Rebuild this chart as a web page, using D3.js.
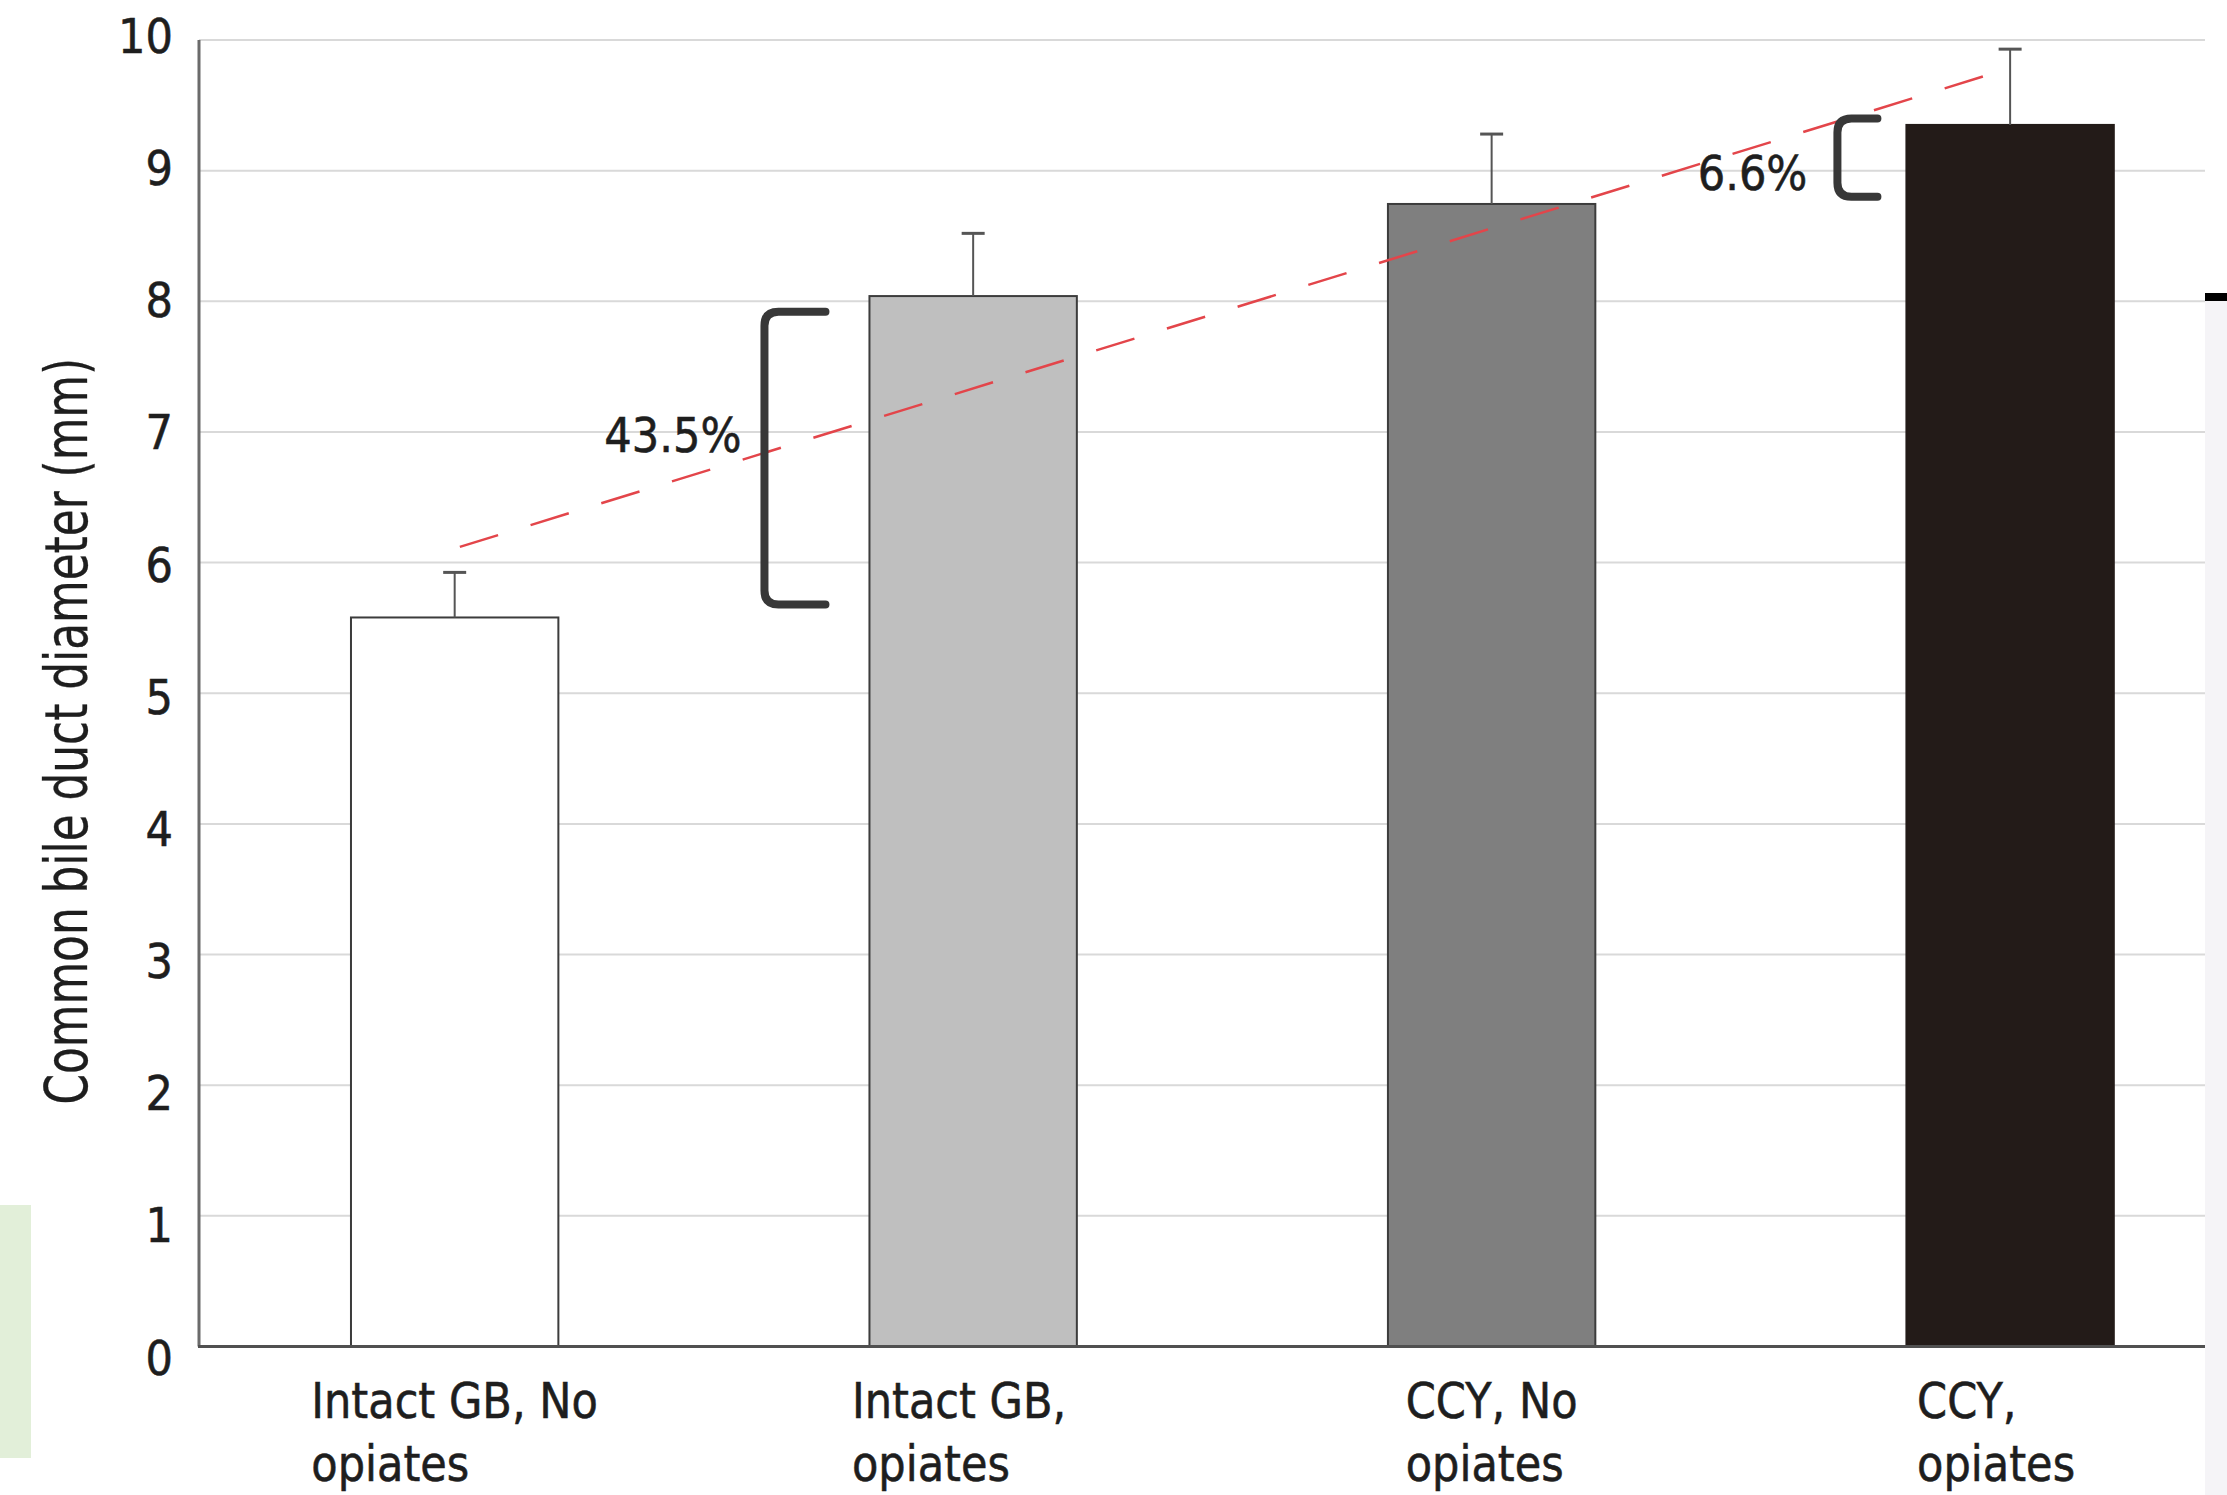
<!DOCTYPE html>
<html>
<head>
<meta charset="utf-8">
<script src="https://cdn.jsdelivr.net/npm/d3@7"></script>
<style>
  body { margin: 0; background: #fff; }
  svg { display: block; }
  text { font-family: "DejaVu Sans", Verdana, sans-serif; fill: #1e1e1e; stroke: #1e1e1e; stroke-width: 0.6; }
</style>
</head>
<body>
<svg id="chart"></svg>
<script>
// data
const categories = ["Intact GB, No opiates", "Intact GB, opiates", "CCY, No opiates", "CCY, opiates"]
const labelLines = [["Intact GB, No", "opiates"], ["Intact GB,", "opiates"], ["CCY, No", "opiates"], ["CCY,", "opiates"]]
const means = [5.58, 8.04, 8.745, 9.35]
const errors = [0.345, 0.48, 0.535, 0.58]
const yTicks = [0, 1, 2, 3, 4, 5, 6, 7, 8, 9, 10]
const trendIndex = [0.01, 2.98]
const trendValues = [6.12, 9.76]
const bracketLow = [5.68, 8.80]
const bracketHigh = [7.92, 9.40]
const pctLabels = ["43.5%", "6.6%"]
const pctLabelValues = [6.85, 8.85]

const barFill = ["#ffffff", "#bfbfbf", "#7f7f7f", "#231b18"]

const W = 2227, H = 1495
const plotL = 199, plotR = 2205, plotT = 40, plotB = 1346.5

const svg = d3.select("#chart")
  .attr("width", W)
  .attr("height", H)

// odd bits around the edge of the picture
svg.append("rect")
  .attr("x", 0).attr("y", 1205).attr("width", 31).attr("height", 253)
  .attr("fill", "#e2efd9")
svg.append("rect")
  .attr("x", plotR).attr("y", 301).attr("width", W - plotR).attr("height", H - 301)
  .attr("fill", "#f5f4f7")
svg.append("rect")
  .attr("x", plotR).attr("y", 293).attr("width", W - plotR).attr("height", 8)
  .attr("fill", "#000")

let x = d3.scaleBand()
  .domain(categories)
  .range([plotL, plotR])
  .paddingInner(0.6)
  .paddingOuter(0.2345)
  .align(0.625)

let y = d3.scaleLinear()
  .domain([0, 10])
  .range([plotB, plotT])

// tick labels sit a touch further apart than the grid
let yLabel = d3.scaleLinear()
  .domain([0, 10])
  .range([plotB + 10.5, plotT - 4.5])

let center = i => x(categories[i]) + x.bandwidth() / 2
let xIdx = d3.scaleLinear()
  .domain([0, categories.length - 1])
  .range([center(0), center(categories.length - 1)])

// gridlines
svg.append("g")
  .selectAll("line")
  .data(yTicks.filter(d => d > 0))
  .enter()
  .append("line")
  .attr("x1", plotL).attr("x2", plotR)
  .attr("y1", d => y(d)).attr("y2", d => y(d))
  .attr("stroke", "#d9d9d9")
  .attr("stroke-width", 2)

// y tick labels
svg.append("g")
  .selectAll("text")
  .data(yTicks)
  .enter()
  .append("text")
  .attr("transform", d => "translate(173," + (yLabel(d) + 17.5) + ") scale(0.9,1)")
  .attr("text-anchor", "end")
  .attr("font-size", 48)
  .text(d => d)

// y title
svg.append("text")
  .attr("transform", "translate(87," + ((plotT + plotB) / 2 + 38) + ") rotate(-90) scale(0.755,1)")
  .attr("text-anchor", "middle")
  .attr("font-size", 58)
  .style("stroke-width", 0.3)
  .text("Common bile duct diameter (mm)")

// bars
svg.append("g")
  .selectAll("rect")
  .data(means)
  .enter()
  .append("rect")
  .attr("x", (d, i) => x(categories[i]))
  .attr("y", d => y(d))
  .attr("width", x.bandwidth())
  .attr("height", d => y(0) - y(d))
  .attr("fill", (d, i) => barFill[i])
  .attr("stroke", (d, i) => i === 3 ? "#231b18" : "#3c3c3c")
  .attr("stroke-width", 2)

// error bars
let err = svg.append("g")
  .attr("stroke", "#555")
  .attr("stroke-width", 2)
means.forEach(function(m, i) {
  let cx = center(i)
  err.append("line")
    .attr("x1", cx).attr("x2", cx)
    .attr("y1", y(m)).attr("y2", y(m + errors[i]))
  err.append("line")
    .attr("x1", cx - 11.5).attr("x2", cx + 11.5)
    .attr("y1", y(m + errors[i])).attr("y2", y(m + errors[i]))
    .attr("stroke-width", 3)
})

// axes lines
svg.append("line")
  .attr("x1", plotL).attr("x2", plotL)
  .attr("y1", plotT).attr("y2", plotB)
  .attr("stroke", "#6b6b6b")
  .attr("stroke-width", 3)
svg.append("line")
  .attr("x1", plotL - 1).attr("x2", plotR)
  .attr("y1", plotB).attr("y2", plotB)
  .attr("stroke", "#505050")
  .attr("stroke-width", 3)

// dashed trend line
svg.append("line")
  .attr("x1", xIdx(trendIndex[0])).attr("y1", y(trendValues[0]))
  .attr("x2", xIdx(trendIndex[1])).attr("y2", y(trendValues[1]))
  .attr("stroke", "#e3454a")
  .attr("stroke-width", 2.5)
  .attr("stroke-dasharray", "40,34")

// brackets with % labels
let bx = [x(categories[1]) - 105, x(categories[3]) - 69]
let arm = [61, 40]
let labelGap = [23, 30]
bracketLow.forEach(function(lo, i) {
  let x0 = bx[i], y0 = y(bracketHigh[i]), y1 = y(lo), r = 14
  let p = d3.path()
  p.moveTo(x0 + arm[i], y0)
  p.lineTo(x0 + r, y0)
  p.quadraticCurveTo(x0, y0, x0, y0 + r)
  p.lineTo(x0, y1 - r)
  p.quadraticCurveTo(x0, y1, x0 + r, y1)
  p.lineTo(x0 + arm[i], y1)
  svg.append("path")
    .attr("d", p.toString())
    .attr("fill", "none")
    .attr("stroke", "#383838")
    .attr("stroke-width", 8)
    .attr("stroke-linecap", "round")
  svg.append("text")
    .attr("transform", "translate(" + (x0 - labelGap[i]) + "," + y(pctLabelValues[i]) + ") scale(0.9,1)")
    .attr("text-anchor", "end")
    .attr("font-size", 48)
    .text(pctLabels[i])
})

// category labels, lines left aligned, block centred under bar
labelLines.forEach(function(lines, i) {
  let g = svg.append("g")
  let texts = lines.map(function(line, j) {
    return g.append("text")
      .attr("font-size", 49)
      .attr("y", 1418 + j * 63)
      .text(line)
  })
  let sx = 0.88
  let wMax = d3.max(texts, t => t.node().getComputedTextLength()) * sx
  let x0 = center(i) - wMax / 2 - (i % 2) * 14
  texts.forEach(function(t) {
    let yy = t.attr("y")
    t.attr("y", null)
      .attr("transform", "translate(" + x0 + "," + yy + ") scale(" + sx + ",1)")
  })
})
</script>
</body>
</html>
